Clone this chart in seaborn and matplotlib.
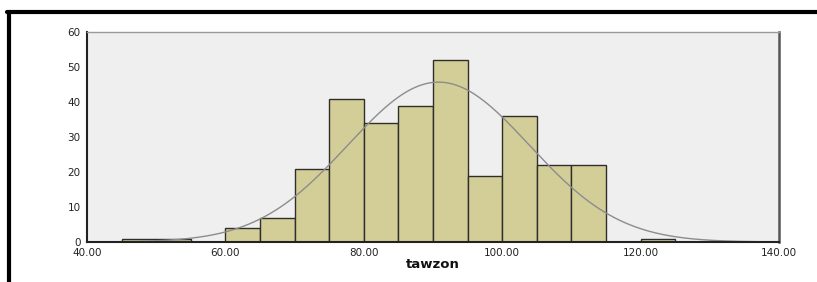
import numpy as np
import pandas as pd
import matplotlib
matplotlib.use("Agg")
import matplotlib.pyplot as plt
from matplotlib.lines import Line2D
import seaborn as sns

# Data (bin width 5)
bin_edges = [45, 50, 55, 60, 65, 70, 75, 80, 85, 90, 95, 100, 105, 110, 115, 120, 125]
counts = [1, 1, 0, 4, 7, 21, 41, 34, 39, 52, 19, 36, 22, 22, 0, 1]
curve_mean = 90.8
curve_sd = 13.1
x_ticks = [40, 60, 80, 100, 120, 140]
y_ticks = [0, 10, 20, 30, 40, 50, 60]

sns.set_style("white")
plt.rcParams['font.family'] = ['DejaVu Sans']

df = pd.DataFrame({
    "tawzon": [(a + b) / 2 for a, b in zip(bin_edges[:-1], bin_edges[1:])],
    "n": counts,
})

fig = plt.figure(figsize=(8.17, 2.82), dpi=100)
ax = fig.add_axes([0.1065, 0.1418, 0.847, 0.7447])
ax.set_facecolor("#EFEFEF")

sns.histplot(data=df, x="tawzon", weights="n", bins=bin_edges, ax=ax,
             color="#D3CE97", alpha=1, edgecolor="#2E2E2A", linewidth=1.0)

# normal curve scaled to counts
n_total = sum(counts)
width = bin_edges[1] - bin_edges[0]
xs = np.linspace(40, 140, 400)
ys = n_total * width * np.exp(-0.5 * ((xs - curve_mean) / curve_sd) ** 2) / (curve_sd * np.sqrt(2 * np.pi))
ax.plot(xs, ys, color="#8C8C8C", linewidth=1.0)

ax.set_xlim(40, 140)
ax.set_ylim(0, 60)
ax.set_xticks(x_ticks)
ax.set_xticklabels([f"{t:.2f}" for t in x_ticks])
ax.set_yticks(y_ticks)
ax.set_yticklabels([str(t) for t in y_ticks])
ax.tick_params(axis="both", direction="out", length=4, width=0.8, color="#333333",
               labelsize=7.5, labelcolor="#222222", pad=0.5)
ax.set_xlabel("tawzon", fontsize=9.5, fontweight="bold", labelpad=0, color="#111111")
ax.set_ylabel("")

for side in ["left", "bottom"]:
    ax.spines[side].set_color("#222222")
    ax.spines[side].set_linewidth(1.5)
ax.spines["top"].set_color("#999999")
ax.spines["top"].set_linewidth(1.0)
ax.spines["right"].set_color("#555555")
ax.spines["right"].set_linewidth(1.8)
for s in ax.spines.values():
    s.set_visible(True)

# outer black frame (top and left)
fig.add_artist(Line2D([7 / 817, 1], [1 - 12 / 282, 1 - 12 / 282],
                      transform=fig.transFigure, color="black", linewidth=3))
fig.add_artist(Line2D([9 / 817, 9 / 817], [0, 1 - 12 / 282],
                      transform=fig.transFigure, color="black", linewidth=3))

fig.savefig("out.png", dpi=100)
